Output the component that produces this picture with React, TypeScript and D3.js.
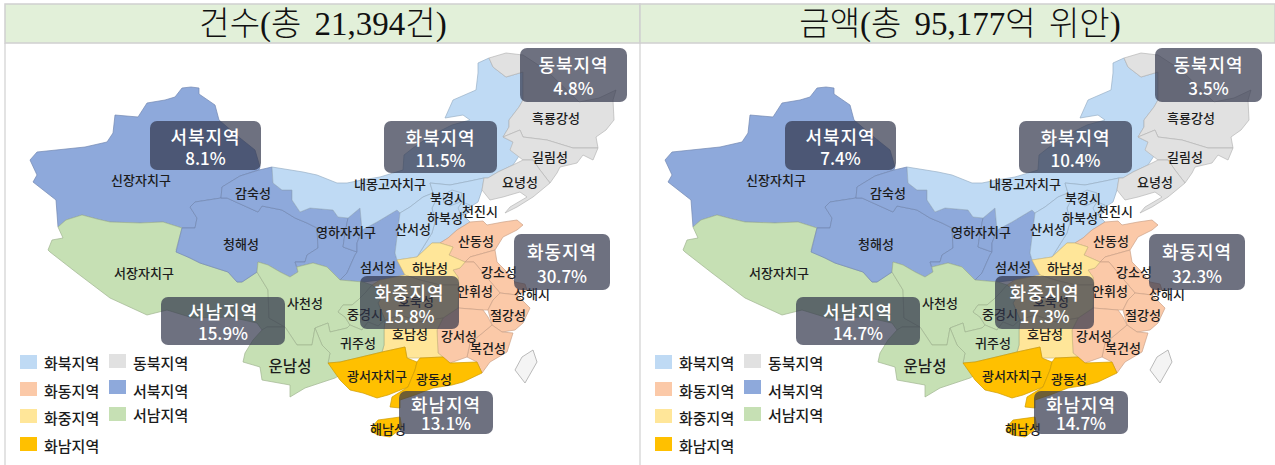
import { useEffect, useRef } from "react";
import * as d3 from "d3";

const KR = '"Noto Sans CJK KR", "Noto Sans", sans-serif';
const TITLE_FONT = '"Liberation Serif", "Noto Sans CJK KR", serif';

const titles = ["건수(총 21,394건)", "금액(총 95,177억 위안)"];

const regions = ["화북지역", "동북지역", "화동지역", "서북지역", "화중지역", "서남지역", "화남지역"];
const regionColors = ["#BFDAF4", "#E1E1E1", "#FBC9A8", "#8EA9DB", "#FFE699", "#C6E0B4", "#FFC000"];

// shares per region, same order as regions
const countShare = [11.5, 4.8, 30.7, 8.1, 15.8, 15.9, 13.1];
const amountShare = [10.4, 3.5, 32.3, 7.4, 17.3, 14.7, 14.7];

const N = "화북지역", NE = "동북지역", E = "화동지역", NW = "서북지역", C = "화중지역", SW = "서남지역", S = "화남지역";

// province outlines, in map units
const provinces: [string, [number, number][]][] = [
  [NW, [[191,87],[199,88],[199,94],[215,105],[219,120],[240,138],[255,150],[260,167],[259,170],[240,176],[222,187],[221,198],[195,202],[190,207],[197,218],[195,228],[182,228],[163,222],[140,223],[110,222],[97,219],[82,215],[66,220],[58,227],[56,200],[33,182],[37,175],[30,160],[37,152],[85,147],[107,142],[113,133],[115,115],[138,117],[147,103],[165,100],[175,97],[182,88]]],
  [SW, [[182,228],[176,250],[190,258],[200,263],[228,272],[237,282],[242,282],[257,272],[268,290],[269,318],[285,327],[267,327],[262,330],[257,323],[230,317],[193,318],[167,310],[147,315],[110,298],[77,273],[50,252],[48,250],[52,240],[63,238],[58,227],[66,220],[82,215],[97,219],[110,222],[140,223],[163,222]]],
  [NW, [[221,198],[227,198],[258,212],[262,206],[282,210],[295,218],[307,223],[317,228],[318,248],[307,255],[305,262],[295,262],[298,272],[290,277],[280,272],[268,265],[258,262],[257,272],[242,282],[237,282],[228,272],[200,263],[190,258],[176,252],[182,228],[195,228],[197,218],[190,207],[195,202]]],
  [NW, [[221,198],[222,187],[240,176],[259,170],[272,167],[273,183],[282,190],[292,190],[292,200],[300,212],[310,208],[333,210],[338,217],[348,218],[345,233],[343,247],[357,252],[355,255],[347,273],[340,280],[327,267],[313,263],[297,267],[295,262],[305,262],[307,255],[318,248],[317,228],[307,223],[295,218],[282,210],[262,206],[258,212],[227,198]]],
  [NW, [[348,218],[360,208],[362,230],[357,243],[357,252],[343,247],[345,233]]],
  [NW, [[347,273],[355,255],[357,252],[357,243],[362,230],[377,222],[397,210],[400,213],[397,237],[395,253],[397,260],[405,275],[380,280],[363,282],[340,280]]],
  [N, [[272,167],[303,172],[317,175],[337,183],[347,183],[362,180],[380,177],[403,170],[404,155],[413,148],[432,135],[452,125],[470,120],[463,115],[445,118],[453,100],[476,90],[478,73],[478,63],[489,58],[493,67],[506,77],[523,72],[523,100],[519,107],[509,120],[509,127],[503,137],[513,142],[521,153],[513,165],[498,172],[488,178],[484,178],[470,181],[450,185],[430,183],[433,193],[423,197],[410,207],[400,213],[397,210],[377,222],[362,230],[360,208],[348,218],[338,217],[333,210],[310,208],[300,212],[292,200],[292,190],[282,190],[273,183]]],
  [N, [[430,183],[450,185],[470,181],[484,178],[482,190],[478,202],[470,207],[463,215],[470,222],[457,230],[448,238],[440,243],[432,243],[417,257],[432,233],[435,222],[432,208],[437,198],[433,193]]],
  [N, [[443,195],[452,190],[462,193],[460,202],[450,206],[444,203]]],
  [N, [[462,202],[470,205],[468,213],[461,215],[458,208]]],
  [N, [[400,213],[410,207],[423,197],[433,193],[437,198],[432,208],[435,222],[432,233],[417,257],[397,260],[395,253],[397,237]]],
  [NE, [[489,58],[506,53],[523,55],[546,70],[579,102],[599,98],[616,90],[613,100],[614,120],[606,130],[596,137],[598,148],[573,148],[547,140],[523,137],[520,130],[503,137],[509,127],[509,120],[519,107],[523,100],[523,72],[506,77],[493,67]]],
  [NE, [[503,137],[520,130],[523,137],[547,140],[573,148],[598,148],[593,160],[583,155],[577,163],[560,167],[557,173],[550,183],[540,170],[533,160],[523,160],[510,150],[513,142]]],
  [NE, [[523,160],[533,160],[540,170],[550,183],[533,197],[517,207],[505,213],[510,207],[527,197],[520,192],[503,197],[490,200],[482,190],[484,178],[488,178],[498,172],[513,165]]],
  [E, [[448,238],[457,230],[470,222],[483,221],[487,225],[503,222],[517,220],[523,225],[517,230],[503,237],[495,250],[470,257],[465,262],[449,255],[453,247],[440,243]]],
  [E, [[465,262],[470,257],[495,250],[497,262],[505,270],[515,282],[525,284],[527,290],[517,295],[500,293],[484,274],[474,262]]],
  [E, [[465,262],[474,262],[484,274],[500,293],[493,300],[488,310],[483,310],[458,308],[459,285],[458,277],[453,270],[460,268]]],
  [E, [[500,293],[517,295],[530,308],[523,323],[515,330],[502,332],[492,325],[488,310],[493,300]]],
  [E, [[492,325],[502,332],[513,333],[507,352],[490,362],[482,373],[477,362],[467,357],[470,343],[480,335]]],
  [E, [[443,318],[458,308],[483,310],[488,317],[492,325],[480,335],[470,343],[467,357],[450,363],[443,357],[438,353],[437,330]]],
  [C, [[397,260],[417,257],[432,243],[440,243],[453,247],[449,255],[465,262],[460,268],[453,270],[458,277],[459,285],[440,285],[420,280],[405,275]]],
  [C, [[372,285],[380,280],[405,275],[420,280],[440,285],[459,285],[458,308],[443,318],[420,322],[400,315],[385,320],[378,303],[383,295]]],
  [C, [[385,320],[400,315],[420,322],[443,318],[437,330],[438,353],[443,357],[420,358],[407,358],[405,347],[382,352],[384,345],[384,330]]],
  [SW, [[258,262],[268,265],[280,272],[290,277],[298,272],[297,267],[313,263],[327,267],[340,280],[363,282],[372,285],[366,292],[358,300],[352,305],[343,305],[338,312],[345,317],[350,325],[347,328],[330,332],[328,323],[315,328],[312,345],[297,345],[285,327],[269,318],[268,290],[257,272]]],
  [SW, [[338,312],[343,305],[352,305],[358,300],[366,292],[372,285],[383,295],[378,303],[385,320],[378,326],[368,322],[362,330],[350,325],[345,317]]],
  [SW, [[315,328],[328,323],[330,332],[347,328],[350,325],[362,330],[368,322],[378,326],[385,320],[384,330],[384,345],[382,352],[357,358],[340,362],[328,363],[330,353],[322,345]]],
  [SW, [[262,330],[267,327],[285,327],[297,345],[312,345],[315,328],[322,345],[330,353],[328,363],[340,375],[335,378],[320,383],[305,388],[290,397],[290,385],[262,380],[260,367],[243,362],[245,353],[253,340]]],
  [S, [[328,363],[340,362],[357,358],[382,352],[405,347],[407,358],[417,362],[415,370],[408,387],[388,395],[377,398],[363,393],[350,390],[340,380]]],
  [S, [[417,362],[420,358],[443,357],[450,363],[477,362],[482,373],[463,382],[452,385],[433,388],[415,395],[400,400],[400,408],[390,407],[392,397],[408,387],[415,370]]],
  [S, [[372,427],[378,420],[400,417],[402,428],[390,437],[378,435],[372,432]]],
];

const taiwan: [number, number][] = [[533,350],[537,362],[525,383],[515,370],[522,357]];

const cityLabels: [string, number, number][] = [
  ["신장자치구", 141, 179], ["감숙성", 253, 192], ["청해성", 241, 243], ["서장자치구", 144, 272],
  ["사천성", 305, 302], ["중경시", 365, 313], ["귀주성", 358, 342], ["영하자치구", 346, 231],
  ["섬서성", 378, 266], ["산서성", 413, 228], ["하남성", 430, 267], ["호북성", 416, 300],
  ["호남성", 410, 333], ["강서성", 459, 335], ["복건성", 488, 347], ["안휘성", 475, 290],
  ["강소성", 499, 271], ["상해시", 532, 293], ["절강성", 508, 314], ["산동성", 476, 240],
  ["내몽고자치구", 390, 183], ["북경시", 448, 197], ["천진시", 480, 210], ["하북성", 445, 217],
  ["요녕성", 520, 181], ["길림성", 550, 156], ["흑룡강성", 556, 117], ["광서자치구", 377, 375],
  ["광동성", 434, 378], ["해남성", 388, 428],
];

// callout rectangles for each region: left, top, right, bottom in map units
const calloutBoxes: Record<string, [number, number, number, number]> = {
  화북지역: [384, 121, 497, 173],
  동북지역: [520, 48, 627, 102],
  화동지역: [514, 234, 610, 290],
  서북지역: [150, 121, 261, 170],
  화중지역: [360, 276, 459, 329],
  서남지역: [161, 297, 285, 345],
  화남지역: [399, 391, 493, 434],
};

// legend entries: region, column left, swatch top, text centre
const legendRows: [string, number, number, number][] = [
  ["화북지역", 20, 355, 362],
  ["동북지역", 109, 354, 362],
  ["화동지역", 20, 382, 390],
  ["서북지역", 109, 380, 390],
  ["화중지역", 20, 409, 417],
  ["서남지역", 109, 407, 414],
  ["화남지역", 20, 437, 445],
];

const colorScale = d3.scaleOrdinal<string, string>().domain(regions).range(regionColors);

export default function App() {
  const svgRef = useRef<SVGSVGElement>(null);

  useEffect(() => {
    if (!svgRef.current) return;
    const svg = d3.select(svgRef.current);
    svg.selectAll("*").remove();

    const panelX = [5, 640];
    const panelW = 635;
    const headerTop = 4;
    const headerBottom = 43;

    [countShare, amountShare].forEach((shares, p) => {
      const dx = p * 635;
      const g = svg.append("g");

      // Header
      g.append("rect")
        .attr("x", panelX[p])
        .attr("y", headerTop)
        .attr("width", panelW)
        .attr("height", headerBottom - headerTop)
        .attr("fill", "#E2F0D9")
        .attr("stroke", "#D0D0D0")
        .attr("stroke-width", 1.5);
      g.append("line")
        .attr("x1", panelX[p])
        .attr("x2", panelX[p])
        .attr("y1", headerBottom)
        .attr("y2", 465)
        .attr("stroke", "#D0D0D0")
        .attr("stroke-width", 1.2);
      g.append("text")
        .attr("x", p === 0 ? 323 : 960)
        .attr("y", 24)
        .attr("text-anchor", "middle")
        .attr("dominant-baseline", "central")
        .attr("font-family", TITLE_FONT)
        .attr("font-size", 33)
        .attr("font-weight", 300)
        .attr("fill", "#111")
        .style("word-spacing", "5px")
        .text(titles[p]);

      // Map
      const path = d3.geoPath(d3.geoIdentity().translate([dx, 0]) as any);
      const toFeature = (pts: [number, number][]) => ({
        type: "Polygon",
        coordinates: [[...pts, pts[0]]],
      });

      g.append("g")
        .selectAll("path")
        .data(provinces)
        .enter()
        .append("path")
        .attr("d", (d) => path(toFeature(d[1]) as any))
        .attr("fill", (d) => colorScale(d[0]))
        .attr("stroke", (d) => d3.color(colorScale(d[0]))!.darker(0.6).formatHex())
        .attr("stroke-width", 0.7)
        .attr("stroke-linejoin", "round");

      g.append("path")
        .attr("d", path(toFeature(taiwan) as any))
        .attr("fill", "#F4F4F4")
        .attr("stroke", "#AAAAAA")
        .attr("stroke-width", 0.8);

      // Province names
      g.append("g")
        .selectAll("text")
        .data(cityLabels)
        .enter()
        .append("text")
        .attr("x", (d) => d[1] + dx)
        .attr("y", (d) => d[2])
        .attr("text-anchor", "middle")
        .attr("dominant-baseline", "central")
        .attr("font-family", KR)
        .attr("font-size", 13)
        .attr("font-weight", 500)
        .attr("fill", "#1c1c1c")
        .text((d) => d[0]);

      g.append("text")
        .attr("x", 290 + dx)
        .attr("y", 365)
        .attr("text-anchor", "middle")
        .attr("dominant-baseline", "central")
        .attr("font-family", KR)
        .attr("font-size", 15.5)
        .attr("font-weight", 500)
        .attr("fill", "#1c1c1c")
        .text("운남성");

      // Callouts
      regions.forEach((r, i) => {
        const [x0, y0, x1, y1] = calloutBoxes[r];
        const h = y1 - y0;
        const b = g.append("g");
        b.append("rect")
          .attr("x", x0 + dx)
          .attr("y", y0)
          .attr("width", x1 - x0)
          .attr("height", h)
          .attr("rx", 7)
          .attr("fill", "#30354A")
          .attr("fill-opacity", 0.7);
        b.append("text")
          .attr("x", (x0 + x1) / 2 + dx)
          .attr("y", y0 + h * 0.3)
          .attr("text-anchor", "middle")
          .attr("dominant-baseline", "central")
          .attr("font-family", KR)
          .attr("font-size", 18)
          .attr("letter-spacing", 0.9)
          .attr("font-weight", 500)
          .attr("fill", "#fff")
          .text(r);
        b.append("text")
          .attr("x", (x0 + x1) / 2 + dx)
          .attr("y", y0 + h * 0.74)
          .attr("text-anchor", "middle")
          .attr("dominant-baseline", "central")
          .attr("font-family", KR)
          .attr("font-size", 17)
          .attr("font-weight", 500)
          .attr("fill", "#fff")
          .text(`${shares[i].toFixed(1)}%`);
      });

      // Legend
      const legend = g.append("g");
      legendRows.forEach(([r, x, top, mid]) => {
        legend
          .append("rect")
          .attr("x", x + dx)
          .attr("y", top)
          .attr("width", 17)
          .attr("height", 14)
          .attr("fill", colorScale(r));
        legend
          .append("text")
          .attr("x", x + 24 + dx)
          .attr("y", mid)
          .attr("dominant-baseline", "central")
          .attr("font-family", KR)
          .attr("font-size", 15)
          .attr("font-weight", 500)
          .attr("fill", "#1c1c1c")
          .text(r);
      });
    });
  }, []);

  return (
    <svg
      ref={svgRef}
      width={1275}
      height={465}
      style={{ position: "absolute", left: 0, top: 0, background: "#fff" }}
    />
  );
}
